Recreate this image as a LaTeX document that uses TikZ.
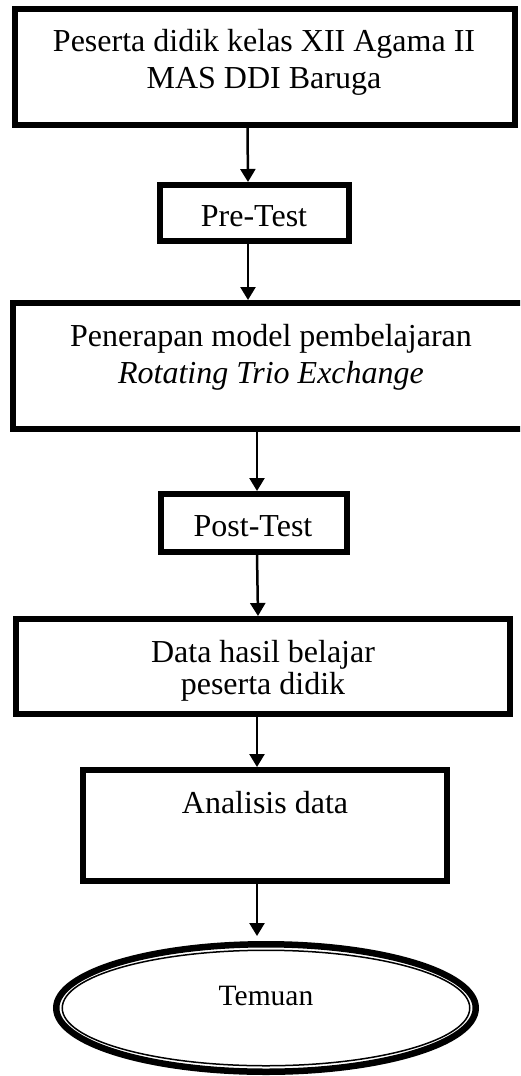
\documentclass[tikz,border=0pt]{standalone}
\usepackage{fontspec}
\setmainfont{Liberation Serif}
\usetikzlibrary{arrows.meta,shapes.geometric}
\begin{document}
\begin{tikzpicture}[x=1pt,y=-1pt,
  box/.style={draw,line width=6pt,rectangle,inner sep=0pt},
  lbl/.style={anchor=base,inner sep=0pt,align=center,font=\fontsize{32}{36.6}\selectfont},
  lbltight/.style={lbl,font=\fontsize{32}{32}\selectfont},
  arr/.style={line width=2.5pt,-{Triangle[width=15pt,length=13pt]}}]
\useasboundingbox (0,0) rectangle (520,1076);
\clip (0,0) rectangle (520,1076);
% boxes (multi-line labels are placed by the baseline of their last line)
\node[box,minimum width=500pt,minimum height=116pt] (b1) at (265,67) {};
\node[lbl] (t1) at (264,88.3) {Peserta didik kelas XII Agama II\\MAS DDI Baruga};
\node[box,minimum width=189pt,minimum height=56pt] (pre) at (254.5,213) {};
\node[lbl] (tpre) at (254,226.7) {Pre-Test};
\node[box,minimum width=512pt,minimum height=126pt] (pen) at (269,366) {};
\node[lbl] (tpen) at (271,383.3) {Penerapan model pembelajaran\\\textit{Rotating Trio Exchange}};
\node[box,minimum width=186pt,minimum height=58pt] (post) at (254,523) {};
\node[lbl] (tpost) at (253,536.7) {Post-Test};
\node[box,minimum width=494pt,minimum height=95pt] (data) at (263,666.5) {};
\node[lbltight] (tdata) at (263,694) {Data hasil belajar\\peserta didik};
\node[box,minimum width=364pt,minimum height=111pt] (ana) at (265,825.5) {};
\node[lbl] (tana) at (265,813.3) {Analisis data};
% final ellipse
\node[draw,ellipse,line width=6.5pt,inner sep=0pt,minimum width=419.5pt,minimum height=127.5pt] (tem) at (266,1008) {};
\draw[line width=1.5pt] (tem.center) ellipse [x radius=203.75, y radius=57.75];
\node[anchor=base,inner sep=0pt,font=\fontsize{29.5}{32}\selectfont] (ttem) at (266,1005) {Temuan};
% connectors
\draw[arr] ([xshift=-17.5pt]b1.south) -- ([xshift=-6.5pt]pre.north);
\draw[arr] ([xshift=-6.5pt]pre.south) -- ([xshift=-21pt]pen.north);
\draw[arr] ([xshift=-12pt]pen.south) -- ([xshift=3pt]post.north);
\draw[arr] ([xshift=3pt]post.south) -- ([xshift=-5pt]data.north);
\draw[arr] ([xshift=-6pt]data.south) -- ([xshift=-8pt]ana.north);
\draw[arr] ([xshift=-8pt]ana.south) -- ([xshift=-9pt,yshift=5pt]tem.north);
\end{tikzpicture}
\end{document}
